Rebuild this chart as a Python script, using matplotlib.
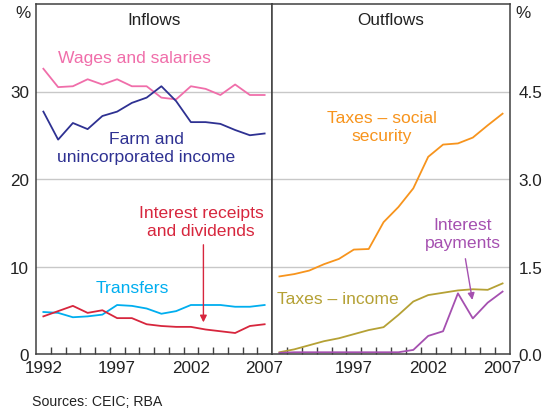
import numpy as np
import matplotlib
matplotlib.use("Agg")
import matplotlib.pyplot as plt

plt.rcParams['font.family'] = ['Liberation Sans', 'DejaVu Sans']

# Annual data, 1992-2007
years = np.arange(1992, 2008)

# Inflows (per cent)
wages = [32.6, 30.5, 30.6, 31.4, 30.8, 31.4, 30.6, 30.6, 29.3, 29.1, 30.6, 30.3, 29.6, 30.8, 29.6, 29.6]
farm = [27.7, 24.5, 26.4, 25.7, 27.2, 27.7, 28.7, 29.3, 30.6, 28.9, 26.5, 26.5, 26.3, 25.6, 25.0, 25.2]
transfers = [4.8, 4.7, 4.2, 4.3, 4.5, 5.6, 5.5, 5.2, 4.6, 4.9, 5.6, 5.6, 5.6, 5.4, 5.4, 5.6]
interest_rec = [4.3, 4.9, 5.5, 4.7, 5.0, 4.1, 4.1, 3.4, 3.2, 3.1, 3.1, 2.8, 2.6, 2.4, 3.2, 3.4]

# Outflows (per cent)
tax_social = [1.33, 1.37, 1.43, 1.54, 1.63, 1.79, 1.80, 2.26, 2.52, 2.84, 3.38, 3.59, 3.61, 3.71, 3.92, 4.12]
tax_income = [0.03, 0.08, 0.15, 0.22, 0.27, 0.34, 0.41, 0.46, 0.67, 0.90, 1.01, 1.05, 1.09, 1.11, 1.10, 1.21]
interest_pay = [0.02, 0.03, 0.03, 0.03, 0.03, 0.03, 0.03, 0.03, 0.03, 0.07, 0.31, 0.39, 1.04, 0.61, 0.88, 1.07]

left_labels = [1992, 1997, 2002, 2007]
right_labels = [1997, 2002, 2007]

fig = plt.figure(figsize=(5.5, 4.1), dpi=100)
W, H = 550, 410
bottom = (H - 355) / H
height = 350 / H
ax1 = fig.add_axes([36 / W, bottom, (272 - 36) / W, height])
ax2 = fig.add_axes([272 / W, bottom, (510 - 272) / W, height])

spine_col = '#404040'
grid_col = '#c8c8c8'
txt_col = '#222222'
fs = 12.6  # annotation font size
ls = 1.25

for ax, ymax, ticks, labs in [(ax1, 40, [0, 10, 20, 30], ['0', '10', '20', '30']),
                              (ax2, 6, [0, 1.5, 3, 4.5], ['0.0', '1.5', '3.0', '4.5'])]:
    ax.set_xlim(1991.5, 2007.5)
    ax.set_ylim(0, ymax)
    ax.set_yticks(ticks)
    ax.set_yticklabels(labs)
    for g in ticks[1:]:
        ax.axhline(g, color=grid_col, lw=1.0, zorder=0)
    for s in ax.spines.values():
        s.set_color(spine_col)
        s.set_linewidth(1.1)
    ax.set_xticks(np.arange(1992.5, 2007, 1), minor=True)
    ax.tick_params(axis='x', which='minor', direction='in', length=5, width=1, color=spine_col)
    ax.tick_params(axis='x', which='major', length=0, pad=4, labelsize=12.3, labelcolor=txt_col)
    ax.tick_params(axis='y', length=0, labelsize=12.3, labelcolor=txt_col)

ax1.set_xticks(left_labels)
ax1.set_xticklabels([str(y) for y in left_labels])
ax1.tick_params(axis='y', pad=5)
ax2.set_xticks(right_labels)
ax2.set_xticklabels([str(y) for y in right_labels])
ax2.yaxis.tick_right()
ax2.tick_params(axis='y', pad=6)

lw = 1.3
ax1.plot(years, wages, color='#f06eaa', lw=lw)
ax1.plot(years, farm, color='#2e3192', lw=lw)
ax1.plot(years, transfers, color='#00aeef', lw=lw)
ax1.plot(years, interest_rec, color='#d7263d', lw=lw)

ax2.plot(years, tax_social, color='#f7941d', lw=lw)
ax2.plot(years, tax_income, color='#b5a135', lw=lw)
ax2.plot(years, interest_pay, color='#a550b0', lw=lw)

# panel titles
ax1.text(0.5, 0.955, 'Inflows', transform=ax1.transAxes, ha='center', va='center', fontsize=12.3, color=txt_col)
ax2.text(0.5, 0.955, 'Outflows', transform=ax2.transAxes, ha='center', va='center', fontsize=12.3, color=txt_col)

# series labels
ax1.text(1998.17, 33.9, 'Wages and salaries', ha='center', va='center', fontsize=fs, color='#f06eaa')
ax1.text(1998.98, 23.55, 'Farm and\nunincorporated income', ha='center', va='center', fontsize=fs,
         color='#2e3192', linespacing=ls)
ax1.text(2002.7, 15.18, 'Interest receipts\nand dividends', ha='center', va='center', fontsize=fs,
         color='#d7263d', linespacing=ls)
ax1.annotate('', xy=(2002.85, 3.3), xytext=(2002.85, 12.8),
             arrowprops=dict(arrowstyle='-|>', color='#d7263d', lw=1, mutation_scale=10))
ax1.text(1998.03, 7.56, 'Transfers', ha='center', va='center', fontsize=fs, color='#00aeef')

ax2.text(1998.86, 3.90, 'Taxes – social\nsecurity', ha='center', va='center', fontsize=fs,
         color='#f7941d', linespacing=ls)
ax2.text(2004.33, 2.06, 'Interest\npayments', ha='center', va='center', fontsize=fs,
         color='#a550b0', linespacing=ls)
ax2.annotate('', xy=(2005.0, 0.88), xytext=(2004.47, 1.68),
             arrowprops=dict(arrowstyle='-|>', color='#a550b0', lw=1, mutation_scale=10))
ax2.text(1995.9, 0.96, 'Taxes – income', ha='center', va='center', fontsize=fs, color='#b5a135')

# percent signs
fig.text(23 / W, 1 - 14 / H, '%', ha='center', va='center', fontsize=12.3, color=txt_col)
fig.text(523 / W, 1 - 14 / H, '%', ha='center', va='center', fontsize=12.3, color=txt_col)

fig.text(32 / W, 1 - 402 / H, 'Sources: CEIC; RBA', ha='left', va='center', fontsize=10.2, color=txt_col)

fig.savefig('out.png', dpi=100)
